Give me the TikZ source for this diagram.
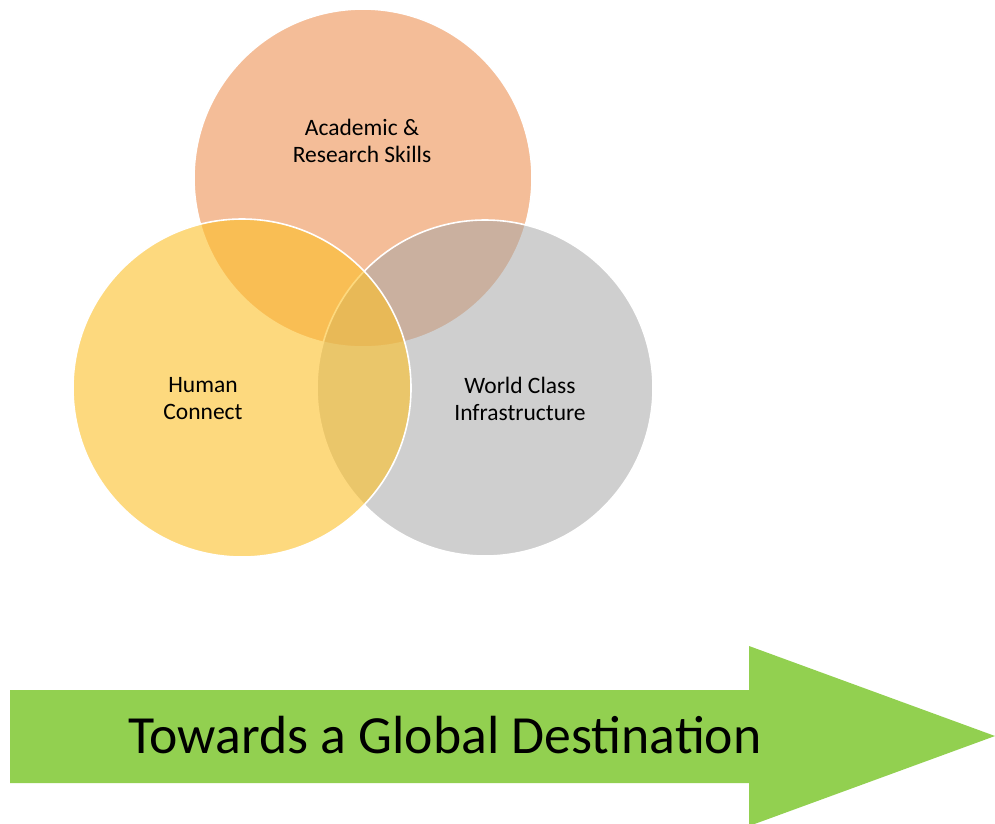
\documentclass[tikz,border=0pt]{standalone}
\usepackage{fontspec}
\setmainfont{Carlito}
\definecolor{acad}{RGB}{244,189,152}
\definecolor{humanc}{RGB}{253,192,40}
\definecolor{infra}{RGB}{166,166,166}
\definecolor{arrowgreen}{RGB}{146,208,80}
\begin{document}
\begin{tikzpicture}[x=1pt,y=-1pt,
  venn/.style={draw=white,line width=1.6pt},
  lbl/.style={align=center,font=\fontsize{23.5}{27}\selectfont,text=black,inner sep=0pt}]
\useasboundingbox (0,0) rectangle (995,823);
% circles
\fill[white] (0,0) rectangle (995,823);
\draw[venn,fill=acad] (363,178) circle[radius=169];
\draw[venn,fill=infra,fill opacity=0.53] (485,388) circle[radius=168];
\draw[venn,fill=humanc,fill opacity=0.6] (242,388) circle[radius=169];
% labels
\node[lbl] (acadlbl) at (362,141) {Academic \&\\Research Skills};
\node[lbl] (humanlbl) at (203,399) {Human\\Connect};
\node[lbl] (infralbl) at (520,399) {World Class\\Infrastructure};
% arrow
\fill[arrowgreen] (10,690) -- (749,690) -- (749,646) -- (995,736) -- (749,826) -- (749,783) -- (10,783) -- cycle;
\node[font=\fontsize{53.7}{62}\selectfont,inner sep=0pt] (dest) at (445,735) {Towards a Global Destination};
\end{tikzpicture}
\end{document}
